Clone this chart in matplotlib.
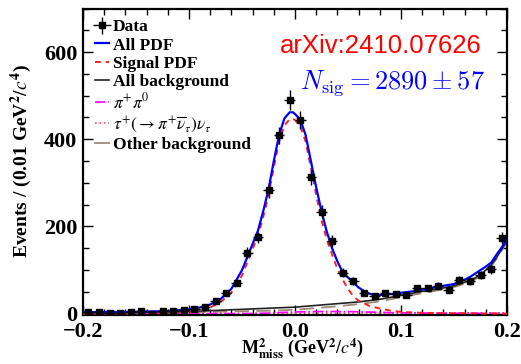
import numpy as np
import matplotlib
matplotlib.use("Agg")
import matplotlib.pyplot as plt
from matplotlib.lines import Line2D
from matplotlib.ticker import MultipleLocator, FixedLocator

plt.rcParams['font.family'] = ['Liberation Serif', 'DejaVu Serif']
plt.rcParams['mathtext.fontset'] = 'stix'
plt.rcParams['axes.unicode_minus'] = True

# ---- data (events per 0.01 GeV^2/c^4) ----
bin_centers = [-0.195, -0.185, -0.175, -0.165, -0.155, -0.145, -0.135, -0.125, -0.115, -0.105,
               -0.095, -0.085, -0.075, -0.065, -0.055, -0.045, -0.035, -0.025, -0.015, -0.005,
               0.005, 0.015, 0.025, 0.035, 0.045, 0.055, 0.065, 0.075, 0.085, 0.095,
               0.105, 0.115, 0.125, 0.135, 0.145, 0.155, 0.165, 0.175, 0.185, 0.195]
counts = [5, 5, 1, 1, 5, 7, 0, 7, 7, 9,
          10, 16, 29, 48, 71, 140, 175, 283, 409, 490,
          444, 313, 234, 167, 94, 75, 48, 40, 48, 45,
          44, 59, 59, 64, 54, 77, 75, 88, 102, 174]

# ---- fit curves ----
all_pdf_x = [-0.2, -0.18, -0.16, -0.14, -0.12, -0.11, -0.10, -0.09, -0.08, -0.07, -0.06, -0.05,
             -0.045, -0.04, -0.035, -0.03, -0.025, -0.02, -0.015, -0.01, -0.005, -0.002, 0.0,
             0.005, 0.01, 0.015, 0.02, 0.025, 0.03, 0.035, 0.04, 0.045, 0.05, 0.055, 0.06,
             0.065, 0.07, 0.075, 0.08, 0.085, 0.09, 0.10, 0.11, 0.12, 0.13, 0.14, 0.15, 0.155,
             0.16, 0.165, 0.17, 0.175, 0.18, 0.185, 0.19, 0.195, 0.2]
all_pdf_y = [3, 4, 4, 5, 6, 8, 10, 14, 21, 34, 57, 100,
             130, 160, 190, 235, 285, 350, 410, 448, 462, 462, 458,
             445, 410, 350, 290, 235, 188, 150, 120, 95, 83, 72, 60,
             52, 46, 43, 43, 44, 45, 48, 51, 55, 60, 64, 68, 74,
             78, 84, 92, 100, 108, 117, 135, 152, 172]

sig_x = [-0.2, -0.15, -0.12, -0.10, -0.09, -0.08, -0.07, -0.06, -0.05, -0.045, -0.04, -0.035,
         -0.03, -0.025, -0.02, -0.015, -0.01, -0.005, -0.002, 0.0, 0.005, 0.01, 0.015, 0.02,
         0.025, 0.03, 0.035, 0.04, 0.045, 0.05, 0.055, 0.06, 0.065, 0.07, 0.08, 0.09, 0.10,
         0.12, 0.15, 0.2]
sig_y = [0, 0, 1, 3, 7, 14, 27, 48, 88, 118, 148, 178,
         222, 272, 335, 395, 432, 446, 447, 444, 430, 395, 335, 272,
         215, 170, 135, 103, 78, 57, 40, 30, 24, 18, 12, 7, 4,
         2, 1, 0]

bkg_x = [-0.2, -0.15, -0.1, -0.08, -0.06, -0.04, -0.02, 0.0, 0.02, 0.04, 0.06, 0.08, 0.1,
         0.12, 0.14, 0.15, 0.16, 0.17, 0.175, 0.18, 0.185, 0.19, 0.195, 0.2]
all_bkg_y = [2, 3, 5, 7, 9, 11, 13, 15, 19, 23, 27, 33, 42,
             51, 59, 64, 72, 82, 90, 100, 112, 128, 148, 168]
other_bkg_y = [1, 2, 3, 4, 5, 6, 7, 9, 13, 17, 22, 28, 38,
               47, 56, 61, 69, 79, 87, 97, 109, 125, 145, 165]

pipi0_x = [-0.2, -0.05, -0.03, -0.01, 0.0, 0.02, 0.04, 0.06, 0.08, 0.1, 0.12, 0.15, 0.2]
pipi0_y = [0, 0.3, 1, 3, 4, 5, 5, 4.5, 3, 2, 1.5, 1, 0.5]
tau_x = [-0.2, -0.05, 0.0, 0.05, 0.1, 0.15, 0.2]
tau_y = [0, 0.2, 1, 1.5, 2, 2, 2]

xticks = [-0.2, -0.1, 0.0, 0.1, 0.2]
xticklabels = ['\u22120.2', '\u22120.1', '0.0', '0.1', '0.2']
yticks = [0, 200, 400, 600]
yticklabels = ['0', '200', '400', '600']

W, H = 521, 364
fig = plt.figure(figsize=(W / 100, H / 100), dpi=100)
ax = fig.add_axes([83 / W, 1 - 315 / H, (507 - 83) / W, (315 - 8.5) / H])

ax.plot(bkg_x, other_bkg_y, color='#a08878', lw=1.3, ls=(0, (8, 4)), zorder=2)
ax.plot(tau_x, tau_y, color='#ff4060', lw=1.2, ls=':', zorder=2)
ax.plot(pipi0_x, pipi0_y, color='#ff00ff', lw=1.2, ls='-.', zorder=2)
ax.plot(bkg_x, all_bkg_y, color='#222222', lw=1.2, zorder=3)
ax.plot(sig_x, sig_y, color='#ff2020', lw=1.4, ls=(0, (3, 2.5)), zorder=4)
ax.plot(all_pdf_x, all_pdf_y, color='#0000ff', lw=1.6, zorder=5)

yerr = np.sqrt(np.maximum(np.array(counts, dtype=float), 1.0))
eb = ax.errorbar(bin_centers, counts, xerr=0.005, yerr=yerr, fmt='s', color='black',
                 markersize=4.5, elinewidth=1.0, capsize=0, zorder=6)

ax.set_xlim(-0.2, 0.2)
ax.set_ylim(-3, 700)
ax.xaxis.set_major_locator(FixedLocator(xticks))
ax.set_xticklabels(xticklabels)
ax.xaxis.set_minor_locator(MultipleLocator(0.02))
ax.yaxis.set_major_locator(FixedLocator(yticks))
ax.set_yticklabels(yticklabels)
ax.yaxis.set_minor_locator(MultipleLocator(50))
ax.tick_params(which='both', direction='in', top=True, right=True, width=1.0)
ax.tick_params(which='major', length=7)
ax.tick_params(which='minor', length=4)
ax.tick_params(axis='both', labelsize=16)
ax.tick_params(axis='x', pad=5)
ax.tick_params(axis='y', pad=4)
for lab in ax.get_xticklabels() + ax.get_yticklabels():
    lab.set_fontweight('bold')
for sp in ax.spines.values():
    sp.set_linewidth(1.6)

ax.set_xlabel(r'M$^{\mathbf{2}}_{\mathbf{miss}}$ (GeV$^{\mathbf{2}}$/$c^{\mathbf{4}}$)',
              fontsize=13, fontweight='bold')
ax.xaxis.set_label_coords((303 - 83) / 424, -0.072)
ax.set_ylabel(r'Events / (0.01 GeV$^{\mathbf{2}}$/$c^{\mathbf{4}}$)',
              fontsize=14, fontweight='bold')
ax.yaxis.set_label_coords((34 - 83) / 424, (315 - 161) / 306.5)

handles = [eb,
           Line2D([], [], color='#0000ff', lw=1.6),
           Line2D([], [], color='#ff2020', lw=1.4, ls=(0, (3, 2.5))),
           Line2D([], [], color='#222222', lw=1.2),
           Line2D([], [], color='#ff00ff', lw=1.2, ls='-.'),
           Line2D([], [], color='#ff4060', lw=1.2, ls=':'),
           Line2D([], [], color='#a08878', lw=1.3)]
labels = ['Data', 'All PDF', 'Signal PDF', 'All background',
          r'$\pi^{+}\pi^{0}$', r'$\tau^{+}(\rightarrow\pi^{+}\overline{\nu}_{\tau})\nu_{\tau}$',
          'Other background']
leg = ax.legend(handles, labels, loc='upper left', bbox_to_anchor=(0.0, 1.005),
                frameon=False, fontsize=12.5, handlelength=0.8, handletextpad=0.2,
                labelspacing=0.12, borderaxespad=0.3)
for t in leg.get_texts():
    t.set_fontweight('bold')

fig.text(482 / W, 1 - 46 / H, 'arXiv:2410.07626', color='#ff0000', fontsize=18.5,
         family='Liberation Sans', ha='right', va='center')
fig.text(485 / W, 1 - 83 / H, r'$N_{\rm sig} = 2890 \pm 57$', color='#0000ff', fontsize=19,
         ha='right', va='center', math_fontfamily='cm')

fig.savefig('out.png', dpi=100)
